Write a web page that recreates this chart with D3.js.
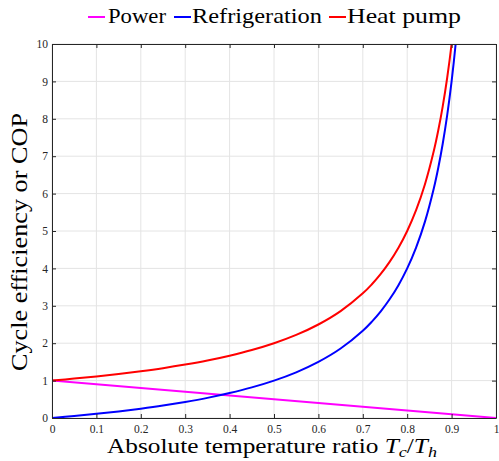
<!DOCTYPE html>
<html><head><meta charset="utf-8">
<script src="https://cdn.jsdelivr.net/npm/d3@7"></script>
<style>body{margin:0;background:#fff}svg{display:block}svg text{font-family:"Liberation Serif","Times New Roman","DejaVu Serif",serif}</style>
</head><body>
<script>
const ratio = [0,0.05,0.1,0.15,0.2,0.25,0.3,0.35,0.4,0.45,0.5,0.55,0.6,0.65,0.7,0.72,0.74,0.76,0.78,0.8,0.82,0.84,0.86,0.87,0.88,0.89,0.9,0.91,0.92];
const heatPump = [1,1.053,1.111,1.176,1.25,1.333,1.429,1.538,1.667,1.818,2,2.222,2.5,2.857,3.333,3.571,3.846,4.167,4.545,5,5.556,6.25,7.143,7.692,8.333,9.091,10,11.111,12.5];
const refrigeration = [0,0.053,0.111,0.176,0.25,0.333,0.429,0.538,0.667,0.818,1,1.222,1.5,1.857,2.333,2.571,2.846,3.167,3.545,4,4.556,5.25,6.143,6.692,7.333,8.091,9,10.111,11.5];
const powerRatio = [0,1];
const power = [1,0];
const xTicks = [0,0.1,0.2,0.3,0.4,0.5,0.6,0.7,0.8,0.9,1];
const xTickLabels = ["0","0.1","0.2","0.3","0.4","0.5","0.6","0.7","0.8","0.9","1"];
const yTicks = [0,1,2,3,4,5,6,7,8,9,10];
const seriesNames = ["Power","Refrigeration","Heat pump"];
const seriesColors = ["#ff00ff","#0000ff","#ff0000"];

const W=499,H=461;
const m={l:52,r:3,t:44,b:43};
const svg=d3.select("body").append("svg").attr("width",W).attr("height",H);
const x=d3.scaleLinear().domain([0,1]).range([m.l,W-m.r]);
const y=d3.scaleLinear().domain([0,10]).range([H-m.b,m.t]);
const axc="#262626";

// grid
const g=svg.append("g");
g.selectAll(".gx").data(xTicks).join("line").attr("x1",d=>x(d)).attr("x2",d=>x(d)).attr("y1",y(0)).attr("y2",y(10)).attr("stroke","#e4e4e4").attr("stroke-width",1);
g.selectAll(".gy").data(yTicks).join("line").attr("y1",d=>y(d)).attr("y2",d=>y(d)).attr("x1",x(0)).attr("x2",x(1)).attr("stroke","#e4e4e4").attr("stroke-width",1);

svg.append("defs").append("clipPath").attr("id","clip").append("rect").attr("x",x(0)).attr("y",y(10)).attr("width",x(1)-x(0)).attr("height",y(0)-y(10));

const line=d3.line().curve(d3.curveCatmullRom.alpha(0.5)).x(d=>x(d[0])).y(d=>y(d[1]));
const series=[
  d3.zip(powerRatio,power),
  d3.zip(ratio,refrigeration),
  d3.zip(ratio,heatPump)
];
const pg=svg.append("g").attr("clip-path","url(#clip)");
series.forEach((s,i)=>{
  pg.append("path").datum(s).attr("d",line).attr("fill","none").attr("stroke",seriesColors[i]).attr("stroke-width",2);
});

// axes
const axBottom=d3.axisBottom(x).tickValues(xTicks).tickFormat((d,i)=>xTickLabels[i]).tickSizeInner(-4).tickSizeOuter(0).tickPadding(7);
const axTop=d3.axisTop(x).tickValues(xTicks).tickFormat("").tickSizeInner(-4).tickSizeOuter(0);
const axLeft=d3.axisLeft(y).tickValues(yTicks).tickSizeInner(-4).tickSizeOuter(0).tickPadding(4);
const axRight=d3.axisRight(y).tickValues(yTicks).tickFormat("").tickSizeInner(-4).tickSizeOuter(0);
function style(sel){sel.attr("font-family",null).attr("font-size",null);sel.selectAll("path,line").attr("stroke",axc);sel.selectAll("text").attr("fill",axc).style("font-size","11.5px");}
svg.append("g").attr("transform",`translate(0,${y(0)})`).call(axBottom).call(style);
svg.append("g").attr("transform",`translate(0,${y(10)})`).call(axTop).call(style);
svg.append("g").attr("transform",`translate(${x(0)},0)`).call(axLeft).call(style);
svg.append("g").attr("transform",`translate(${x(1)},0)`).call(axRight).call(style);

// labels
svg.append("text").attr("x",107).attr("y",453).style("font-size","21px").attr("fill","#000")
  .attr("textLength",330).attr("lengthAdjust","spacingAndGlyphs")
  .html("Absolute temperature ratio <tspan font-style='italic'>T</tspan><tspan font-style='italic' font-size='15' dy='4'>c</tspan><tspan dy='-4'>/</tspan><tspan font-style='italic'>T</tspan><tspan font-style='italic' font-size='15' dy='4'>h</tspan>");
svg.append("text").attr("transform",`translate(27,371) rotate(-90)`).style("font-size","23px").attr("fill","#000")
  .attr("textLength",258).attr("lengthAdjust","spacingAndGlyphs").text("Cycle efficiency or COP");

// legend
const legX=[88,174,329];
const legTextX=[108,192,347];
const legTextW=[58,130,114];
const lg=svg.append("g");
seriesNames.forEach((n,i)=>{
  lg.append("line").attr("x1",legX[i]).attr("x2",legX[i]+17).attr("y1",17).attr("y2",17).attr("stroke",seriesColors[i]).attr("stroke-width",2);
  lg.append("text").attr("x",legTextX[i]).attr("y",23).style("font-size","22px").attr("fill","#000")
    .attr("textLength",legTextW[i]).attr("lengthAdjust","spacingAndGlyphs").text(n);
});
</script>
</body></html>
